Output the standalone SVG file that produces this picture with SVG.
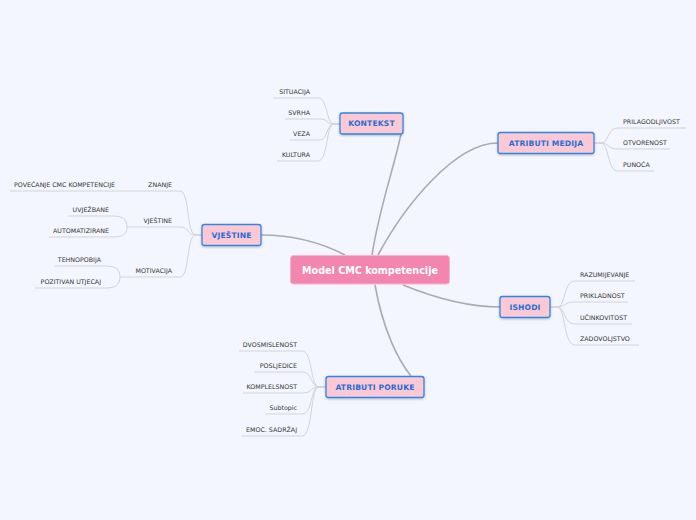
<svg xmlns="http://www.w3.org/2000/svg" width="696" height="520" viewBox="0 0 696 520">
<style>
.main rect{fill:#fcc8d3;stroke:#2f86e8;stroke-width:1.3}
.main text{font-family:"DejaVu Sans",sans-serif;font-weight:bold;font-size:7.6px;letter-spacing:0.15px;fill:#1c6fd9;text-anchor:middle}
.sub{font-family:"DejaVu Sans",sans-serif;font-size:6.3px;fill:#333}
.l{text-anchor:end}
.c1{fill:none;stroke:#ababb0;stroke-width:1.6}
.c2{fill:none;stroke:#d2d3da;stroke-width:1}
</style>
<defs>
<filter id="sh" x="-10%" y="-20%" width="120%" height="150%"><feDropShadow dx="0" dy="1" stdDeviation="0.8" flood-color="#000" flood-opacity="0.25"/></filter>
</defs>
<rect width="696" height="520" fill="#f3f6fe"/>
<g id="connectors">
<path class="c1" d="M372,255 C380,205 394,168 401,134"/>
<path class="c1" d="M378,255 C405,205 455,143 498,143"/>
<path class="c1" d="M345,255 C320,242 292,235 261,235"/>
<path class="c1" d="M403,285 C440,300 470,307 500,307"/>
<path class="c1" d="M375,285 C383,330 398,360 411,376"/>
<path class="c2" d="M340,124 H334 C326,124 328,98 318,98 H273"/>
<path class="c2" d="M340,124 H334 C326,124 328,119 320,119 H285"/>
<path class="c2" d="M340,124 H334 C326,124 328,140 320,140 H290"/>
<path class="c2" d="M340,124 H334 C326,124 328,161 318,161 H277"/>
<path class="c2" d="M594,143 H601 C609,143 607,128 618,128 H686"/>
<path class="c2" d="M594,143 H601 C609,143 607,149 618,149 H670"/>
<path class="c2" d="M594,143 H601 C609,143 607,171 618,171 H654"/>
<path class="c2" d="M202,235 H196 C186,235 190,191 180,191 H10"/>
<path class="c2" d="M202,235 H196 C186,235 190,227 180,227 H127"/>
<path class="c2" d="M202,235 H196 C186,235 190,277 180,277 H120"/>
<path class="c2" d="M127,227 C127,219 122,216 113,216 H68"/>
<path class="c2" d="M127,227 C127,235 122,237 113,237 H49"/>
<path class="c2" d="M120,277 C120,269 115,266 106,266 H54"/>
<path class="c2" d="M120,277 C120,285 115,288 106,288 H35"/>
<path class="c2" d="M550,307 H557 C566,307 563,281 575,281 H635"/>
<path class="c2" d="M550,307 H557 C566,307 563,302 575,302 H628"/>
<path class="c2" d="M550,307 H557 C566,307 563,324 575,324 H632"/>
<path class="c2" d="M550,307 H557 C566,307 563,345 575,345 H639"/>
<path class="c2" d="M326,387 H319 C310,387 313,351 302,351 H239"/>
<path class="c2" d="M326,387 H319 C310,387 313,372 302,372 H254"/>
<path class="c2" d="M326,387 H319 C310,387 313,393 302,393 H243"/>
<path class="c2" d="M326,387 H319 C310,387 313,414 302,414 H265"/>
<path class="c2" d="M326,387 H319 C310,387 313,436 302,436 H242"/>
</g>
<g id="center">
<rect x="290.5" y="255.5" width="159" height="28.5" rx="3" fill="#f386ae" stroke="#f8b4cc" stroke-width="1"/>
<text x="370" y="273.5" font-family="DejaVu Sans,sans-serif" font-weight="bold" font-size="9.6" fill="#fff" text-anchor="middle">Model CMC kompetencije</text>
</g>
<g id="kontekst" class="main"><rect x="340" y="113" width="63" height="21" rx="2.5" filter="url(#sh)"/><text x="371.5" y="126.3">KONTEKST</text></g>
<g id="atributi-medija" class="main"><rect x="498" y="132.5" width="96" height="21" rx="2.5" filter="url(#sh)"/><text x="546" y="145.8">ATRIBUTI MEDIJA</text></g>
<g id="vjestine" class="main"><rect x="202" y="224.5" width="59" height="21" rx="2.5" filter="url(#sh)"/><text x="231.5" y="237.8">VJEŠTINE</text></g>
<g id="ishodi" class="main"><rect x="500" y="296.5" width="50" height="21" rx="2.5" filter="url(#sh)"/><text x="525" y="309.8">ISHODI</text></g>
<g id="atributi-poruke" class="main"><rect x="326" y="376.5" width="98" height="21" rx="2.5" filter="url(#sh)"/><text x="375" y="389.8">ATRIBUTI PORUKE</text></g>
<g id="kontekst-sub" class="sub l">
<text x="310" y="94.2">SITUACIJA</text>
<text x="310" y="115.2">SVRHA</text>
<text x="310" y="136.2">VEZA</text>
<text x="310" y="157.2">KULTURA</text>
</g>
<g id="medija-sub" class="sub">
<text x="623" y="124.2">PRILAGODLJIVOST</text>
<text x="623" y="145.2">OTVORENOST</text>
<text x="623" y="166.7">PUNOĆA</text>
</g>
<g id="vjestine-sub" class="sub l">
<text x="172" y="187.2">ZNANJE</text>
<text x="115" y="187.2">POVEĆANJE CMC KOMPETENCIJE</text>
<text x="172" y="223.2">VJEŠTINE</text>
<text x="109" y="212.2">UVJEŽBANE</text>
<text x="109" y="233.2">AUTOMATIZIRANE</text>
<text x="172" y="273.2">MOTIVACIJA</text>
<text x="101" y="262.2">TEHNOPOBIJA</text>
<text x="101" y="284.2">POZITIVAN UTJECAJ</text>
</g>
<g id="ishodi-sub" class="sub">
<text x="580" y="277.2">RAZUMIJEVANJE</text>
<text x="580" y="298.2">PRIKLADNOST</text>
<text x="580" y="320.2">UČINKOVITOST</text>
<text x="580" y="341.2">ZADOVOLJSTVO</text>
</g>
<g id="poruke-sub" class="sub l">
<text x="297" y="347.2">DVOSMISLENOST</text>
<text x="297" y="368.2">POSLJEDICE</text>
<text x="297" y="389.2">KOMPLELSNOST</text>
<text x="297" y="410.2">Subtopic</text>
<text x="297" y="432.2">EMOC. SADRŽAJ</text>
</g>
</svg>
